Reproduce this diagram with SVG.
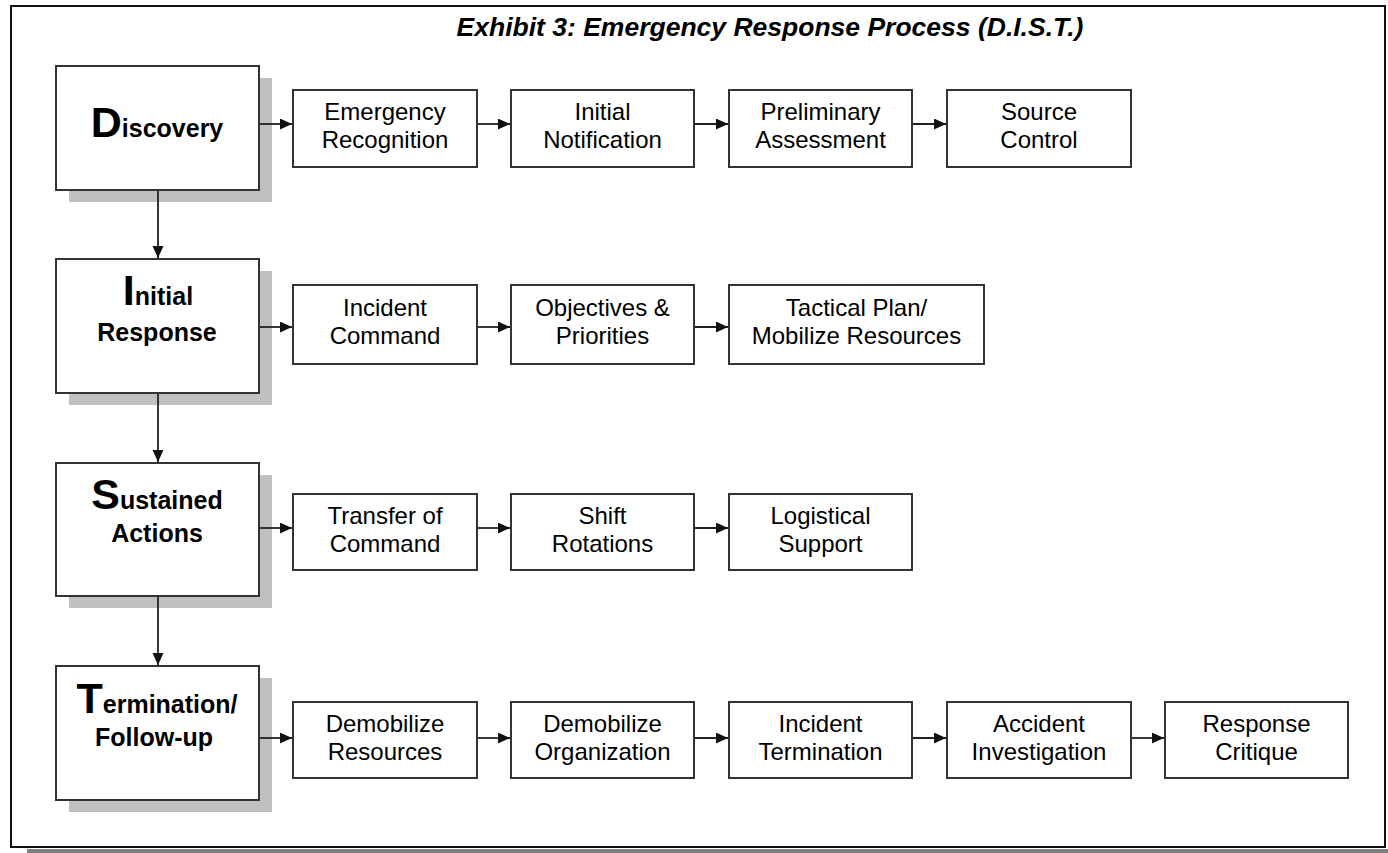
<svg xmlns="http://www.w3.org/2000/svg" width="1388" height="853" viewBox="0 0 1388 853">
<style>
.frame{fill:#fff;stroke:#111;stroke-width:2}
.fshadow{fill:#808080}
.main{fill:#fff;stroke:#333;stroke-width:2}
.shadow{fill:#c0c0c0}
.sub{fill:#fff;stroke:#333;stroke-width:2}
.conn{stroke:#222;stroke-width:1.8;fill:none;marker-end:url(#ah)}
.title{font-family:"Liberation Sans",Arial,sans-serif;font-size:26.5px;font-weight:bold;font-style:italic;fill:#000}
.mt{font-family:"Liberation Sans",Arial,sans-serif;font-size:25px;font-weight:bold;fill:#000;text-anchor:middle}
.big{font-size:43px}
.st{font-family:"Liberation Sans",Arial,sans-serif;font-size:24px;fill:#000;text-anchor:middle}
</style>
<defs>
<marker id="ah" markerUnits="userSpaceOnUse" markerWidth="13" markerHeight="12" refX="12" refY="5.5" orient="auto">
<path d="M0,0 L12,5.5 L0,11 z" fill="#111"/>
</marker>
</defs>
<rect class="fshadow" x="27" y="849" width="1361" height="4"/>
<rect class="frame" x="11" y="6" width="1374" height="841"/>
<text class="title" x="770" y="36" text-anchor="middle">Exhibit 3: Emergency Response Process (D.I.S.T.)</text>

<g id="discovery">
<rect class="shadow" x="69" y="78" width="203" height="124"/>
<rect class="main" x="56" y="66" width="203" height="124"/>
<text class="mt" x="157" y="137"><tspan class="big">D</tspan>iscovery</text>
</g>
<g id="initial-response">
<rect class="shadow" x="69" y="271" width="203" height="134"/>
<rect class="main" x="56" y="259" width="203" height="134"/>
<text class="mt" x="158" y="305"><tspan class="big">I</tspan>nitial</text>
<text class="mt" x="157" y="341">Response</text>
</g>
<g id="sustained-actions">
<rect class="shadow" x="69" y="475" width="203" height="133"/>
<rect class="main" x="56" y="463" width="203" height="133"/>
<text class="mt" x="157" y="509"><tspan class="big">S</tspan>ustained</text>
<text class="mt" x="157" y="542">Actions</text>
</g>
<g id="termination">
<rect class="shadow" x="69" y="678" width="203" height="134"/>
<rect class="main" x="56" y="666" width="203" height="134"/>
<text class="mt" x="157" y="713"><tspan class="big">T</tspan>ermination/</text>
<text class="mt" x="154" y="746">Follow-up</text>
</g>

<g id="emergency-recognition"><rect class="sub" x="293" y="90" width="184" height="77"/><text class="st" x="385" y="120">Emergency</text><text class="st" x="385" y="148">Recognition</text></g>
<g id="initial-notification"><rect class="sub" x="511" y="90" width="183" height="77"/><text class="st" x="602.5" y="120">Initial</text><text class="st" x="602.5" y="148">Notification</text></g>
<g id="preliminary-assessment"><rect class="sub" x="729" y="90" width="183" height="77"/><text class="st" x="820.5" y="120">Preliminary</text><text class="st" x="820.5" y="148">Assessment</text></g>
<g id="source-control"><rect class="sub" x="947" y="90" width="184" height="77"/><text class="st" x="1039" y="120">Source</text><text class="st" x="1039" y="148">Control</text></g>

<g id="incident-command"><rect class="sub" x="293" y="285" width="184" height="79"/><text class="st" x="385" y="316">Incident</text><text class="st" x="385" y="344">Command</text></g>
<g id="objectives-priorities"><rect class="sub" x="511" y="285" width="183" height="79"/><text class="st" x="602.5" y="316">Objectives &amp;</text><text class="st" x="602.5" y="344">Priorities</text></g>
<g id="tactical-plan"><rect class="sub" x="729" y="285" width="255" height="79"/><text class="st" x="856.5" y="316">Tactical Plan/</text><text class="st" x="856.5" y="344">Mobilize Resources</text></g>

<g id="transfer-of-command"><rect class="sub" x="293" y="494" width="184" height="76"/><text class="st" x="385" y="524">Transfer of</text><text class="st" x="385" y="552">Command</text></g>
<g id="shift-rotations"><rect class="sub" x="511" y="494" width="183" height="76"/><text class="st" x="602.5" y="524">Shift</text><text class="st" x="602.5" y="552">Rotations</text></g>
<g id="logistical-support"><rect class="sub" x="729" y="494" width="183" height="76"/><text class="st" x="820.5" y="524">Logistical</text><text class="st" x="820.5" y="552">Support</text></g>

<g id="demobilize-resources"><rect class="sub" x="293" y="702" width="184" height="76"/><text class="st" x="385" y="732">Demobilize</text><text class="st" x="385" y="760">Resources</text></g>
<g id="demobilize-organization"><rect class="sub" x="511" y="702" width="183" height="76"/><text class="st" x="602.5" y="732">Demobilize</text><text class="st" x="602.5" y="760">Organization</text></g>
<g id="incident-termination"><rect class="sub" x="729" y="702" width="183" height="76"/><text class="st" x="820.5" y="732">Incident</text><text class="st" x="820.5" y="760">Termination</text></g>
<g id="accident-investigation"><rect class="sub" x="947" y="702" width="184" height="76"/><text class="st" x="1039" y="732">Accident</text><text class="st" x="1039" y="760">Investigation</text></g>
<g id="response-critique"><rect class="sub" x="1165" y="702" width="183" height="76"/><text class="st" x="1256.5" y="732">Response</text><text class="st" x="1256.5" y="760">Critique</text></g>

<g id="connectors">
<line class="conn" x1="158" y1="191" x2="158" y2="258"/>
<line class="conn" x1="158" y1="394" x2="158" y2="462"/>
<line class="conn" x1="158" y1="597" x2="158" y2="665"/>
<line class="conn" x1="260" y1="124" x2="292" y2="124"/>
<line class="conn" x1="478" y1="124" x2="510" y2="124"/>
<line class="conn" x1="695" y1="124" x2="728" y2="124"/>
<line class="conn" x1="913" y1="124" x2="946" y2="124"/>
<line class="conn" x1="260" y1="327" x2="292" y2="327"/>
<line class="conn" x1="478" y1="327" x2="510" y2="327"/>
<line class="conn" x1="695" y1="327" x2="728" y2="327"/>
<line class="conn" x1="260" y1="528" x2="292" y2="528"/>
<line class="conn" x1="478" y1="528" x2="510" y2="528"/>
<line class="conn" x1="695" y1="528" x2="728" y2="528"/>
<line class="conn" x1="260" y1="738" x2="292" y2="738"/>
<line class="conn" x1="478" y1="738" x2="510" y2="738"/>
<line class="conn" x1="695" y1="738" x2="728" y2="738"/>
<line class="conn" x1="913" y1="738" x2="946" y2="738"/>
<line class="conn" x1="1132" y1="738" x2="1164" y2="738"/>
</g>
</svg>
